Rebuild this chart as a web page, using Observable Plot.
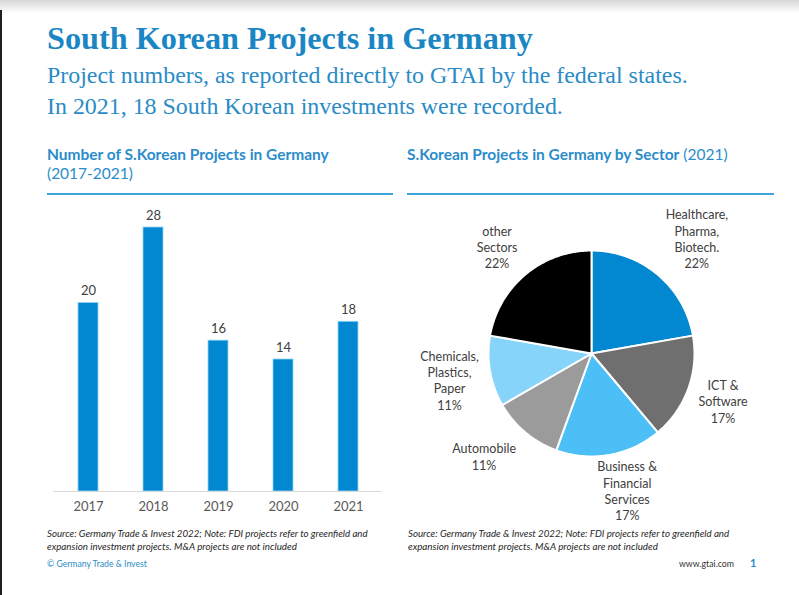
<!DOCTYPE html>
<html>
<head>
<meta charset="utf-8">
<script src="https://cdn.jsdelivr.net/npm/d3@7"></script>
<script src="https://cdn.jsdelivr.net/npm/@observablehq/plot@0.6"></script>
<style>
  html, body { margin: 0; padding: 0; background: #fff; }
  #slide { position: relative; width: 799px; height: 595px; overflow: hidden; background: #fff; }
  #topband { position: absolute; left: 0; top: 0; width: 799px; height: 13px; background: linear-gradient(#d6d6d6, #ffffff); }
  #leftedge { position: absolute; left: 0; top: 10px; width: 2px; bottom: 0; background: #1e1e1e; }
  #bars { position: absolute; left: 0; top: 200px; }
  #pie { position: absolute; left: 400px; top: 198px; }
  #texts { position: absolute; left: 0; top: 0; }
</style>
</head>
<body>
<div id="slide">
  <div id="topband"></div>
  <div id="leftedge"></div>
  <div id="bars"></div>
  <div id="pie"></div>
  <svg id="texts" width="799" height="595"></svg>
</div>
<script>
// ---------- data ----------
const years = ["2017", "2018", "2019", "2020", "2021"];
const projects = [20, 28, 16, 14, 18];

const sectors = ["Healthcare,\nPharma,\nBiotech.", "ICT &\nSoftware", "Business &\nFinancial\nServices", "Automobile", "Chemicals,\nPlastics,\nPaper", "other\nSectors"];
const sectorCounts = [4, 3, 3, 2, 2, 4];
const sectorColors = ["#0288d1", "#6f6f6f", "#4bbff6", "#9b9b9b", "#87d4fb", "#000000"];

const titleText = "South Korean Projects in Germany";
const subtitle1 = "Project numbers, as reported directly to GTAI by the federal states.";
const subtitle2 = "In 2021, 18 South Korean investments were recorded.";
const barHeading = "Number of S.Korean Projects in Germany";
const barHeadingSub = "(2017-2021)";
const pieHeading = "S.Korean Projects in Germany by Sector";
const pieHeadingSub = " (2021)";
const sourceLine1 = "Source: Germany Trade & Invest 2022; Note: FDI projects refer to greenfield and";
const sourceLine2 = "expansion investment projects. M&A projects are not included";
const copyright = "© Germany Trade & Invest";
const website = "www.gtai.com";
const pageNo = "1";

// label layout nudges in pixels (best-fit placement, as in the original)
const labelNudge = [[14, -6], [-2, -1], [11, -3], [-16, -6], [-2, 2], [-3, 2]];

// ---------- bar chart ----------
const barData = years.map((year, i) => ({year, value: projects[i]}));
const barChart = Plot.plot({
  width: 400,
  height: 330,
  marginLeft: 53,
  marginRight: 18,
  marginTop: 27,
  marginBottom: 39,
  style: {fontFamily: "Lato, sans-serif", fontSize: "13px", color: "#595959", background: "transparent"},
  x: {domain: years, paddingInner: 0.695, paddingOuter: 0.35, tickSize: 0, tickPadding: 10, label: null},
  y: {domain: [0, 28], axis: null},
  marks: [
    Plot.barY(barData, {x: "year", y: "value", fill: "#0288d1", stroke: "#8fd6f8", strokeWidth: 0.8}),
    Plot.ruleY([0], {stroke: "#d9d9d9", strokeWidth: 1}),
    Plot.text(barData, {x: "year", y: "value", text: d => String(d.value), dy: -12, fontSize: 13, fill: "#404040"})
  ]
});
document.getElementById("bars").appendChild(barChart);

// ---------- pie chart ----------
const R = 103; // pixel radius of the pie
const total = d3.sum(sectorCounts);
const pieInput = sectors.map((sector, i) => ({sector, count: sectorCounts[i], i}));
const arcs = d3.pie().sort(null).value(d => d.count)(pieInput);
const slicePoints = [];
arcs.forEach(a => {
  const s = a.data.sector;
  slicePoints.push({sector: s, x: 0, y: 0});
  const steps = Math.max(8, Math.ceil((a.endAngle - a.startAngle) / (Math.PI / 180)));
  for (let k = 0; k <= steps; k++) {
    const t = a.startAngle + (a.endAngle - a.startAngle) * k / steps;
    slicePoints.push({sector: s, x: Math.sin(t), y: Math.cos(t)});
  }
  slicePoints.push({sector: s, x: 0, y: 0});
});
const labelRadius = 1.38;
const labels = arcs.map(a => {
  const m = (a.startAngle + a.endAngle) / 2;
  const [ndx, ndy] = labelNudge[a.data.i];
  return {
    x: Math.sin(m) * labelRadius + ndx / R,
    y: Math.cos(m) * labelRadius - ndy / R,
    text: a.data.sector + "\n" + Math.round(a.data.count / total * 100) + "%"
  };
});
const pieChart = Plot.plot({
  width: 399,
  height: 330,
  style: {fontFamily: "Lato, sans-serif", background: "transparent"},
  x: {domain: [-1, 1], range: [191 - R, 191 + R], axis: null},
  y: {domain: [-1, 1], range: [155 + R, 155 - R], axis: null},
  color: {domain: sectors, range: sectorColors},
  marks: [
    Plot.line(slicePoints, {x: "x", y: "y", z: "sector", fill: "sector", stroke: "white", strokeWidth: 2, strokeLinejoin: "round"}),
    Plot.text(labels, {x: "x", y: "y", text: "text", fontSize: 12.5, lineHeight: 1.3, fill: "#404040"})
  ]
});
document.getElementById("pie").appendChild(pieChart);

// ---------- slide texts ----------
const NS = "http://www.w3.org/2000/svg";
const svg = document.getElementById("texts");
function addText(o) {
  const t = document.createElementNS(NS, "text");
  t.setAttribute("x", o.x);
  t.setAttribute("y", o.y);
  t.setAttribute("font-family", o.family || "Lato, sans-serif");
  t.setAttribute("font-size", o.size);
  if (o.anchor) t.setAttribute("text-anchor", o.anchor);
  (o.parts || [{text: o.text, weight: o.weight, style: o.style}]).forEach(p => {
    const s = document.createElementNS(NS, "tspan");
    s.textContent = p.text;
    if (p.weight) s.setAttribute("font-weight", p.weight);
    if (p.style) s.setAttribute("font-style", p.style);
    t.appendChild(s);
  });
  t.setAttribute("fill", o.fill || "#333");
  t.setAttribute("style", "white-space: pre");
  svg.appendChild(t);
  if (o.width) {
    const w = t.getComputedTextLength();
    const fs = o.size * o.width / w;
    t.setAttribute("font-size", fs);
    return fs;
  }
  return o.size;
}
const serif = "'Liberation Serif', 'DejaVu Serif', serif";
addText({x: 47, y: 49, text: titleText, size: 30, family: serif, weight: "bold", fill: "#1b86c4", width: 486});
const sfs = addText({x: 47, y: 83, text: subtitle1, size: 24, family: serif, fill: "#2a8bc6", width: 641});
addText({x: 47, y: 114, text: subtitle2, size: sfs, family: serif, fill: "#2a8bc6"});

const hfs = addText({x: 47, y: 160, text: barHeading, size: 13.5, weight: "bold", fill: "#2b8ccb", width: 282});
addText({x: 47, y: 179, text: barHeadingSub, size: hfs, fill: "#2b8ccb"});
addText({x: 407, y: 160, size: hfs, fill: "#2b8ccb", parts: [{text: pieHeading, weight: "bold"}, {text: pieHeadingSub}]});

// heading rules
[[47, 393], [407, 774]].forEach(([x1, x2]) => {
  const l = document.createElementNS(NS, "line");
  l.setAttribute("x1", x1); l.setAttribute("x2", x2);
  l.setAttribute("y1", 194); l.setAttribute("y2", 194);
  l.setAttribute("stroke", "#3fa2d9"); l.setAttribute("stroke-width", 2);
  svg.appendChild(l);
});

const ffs = addText({x: 47, y: 537, text: sourceLine1, size: 9, style: "italic", fill: "#262626", width: 321});
addText({x: 47, y: 550, text: sourceLine2, size: ffs, style: "italic", fill: "#262626", width: 250});
addText({x: 408, y: 537, text: sourceLine1, size: ffs, style: "italic", fill: "#262626", width: 321});
addText({x: 408, y: 550, text: sourceLine2, size: ffs, style: "italic", fill: "#262626", width: 250});

addText({x: 47, y: 567, text: copyright, size: 9, fill: "#2a8bc6", width: 100});
addText({x: 679, y: 567, text: website, size: 9, fill: "#333", width: 55});
addText({x: 750, y: 567, text: pageNo, size: 11, weight: "bold", fill: "#2a8bc6"});
</script>
</body>
</html>
